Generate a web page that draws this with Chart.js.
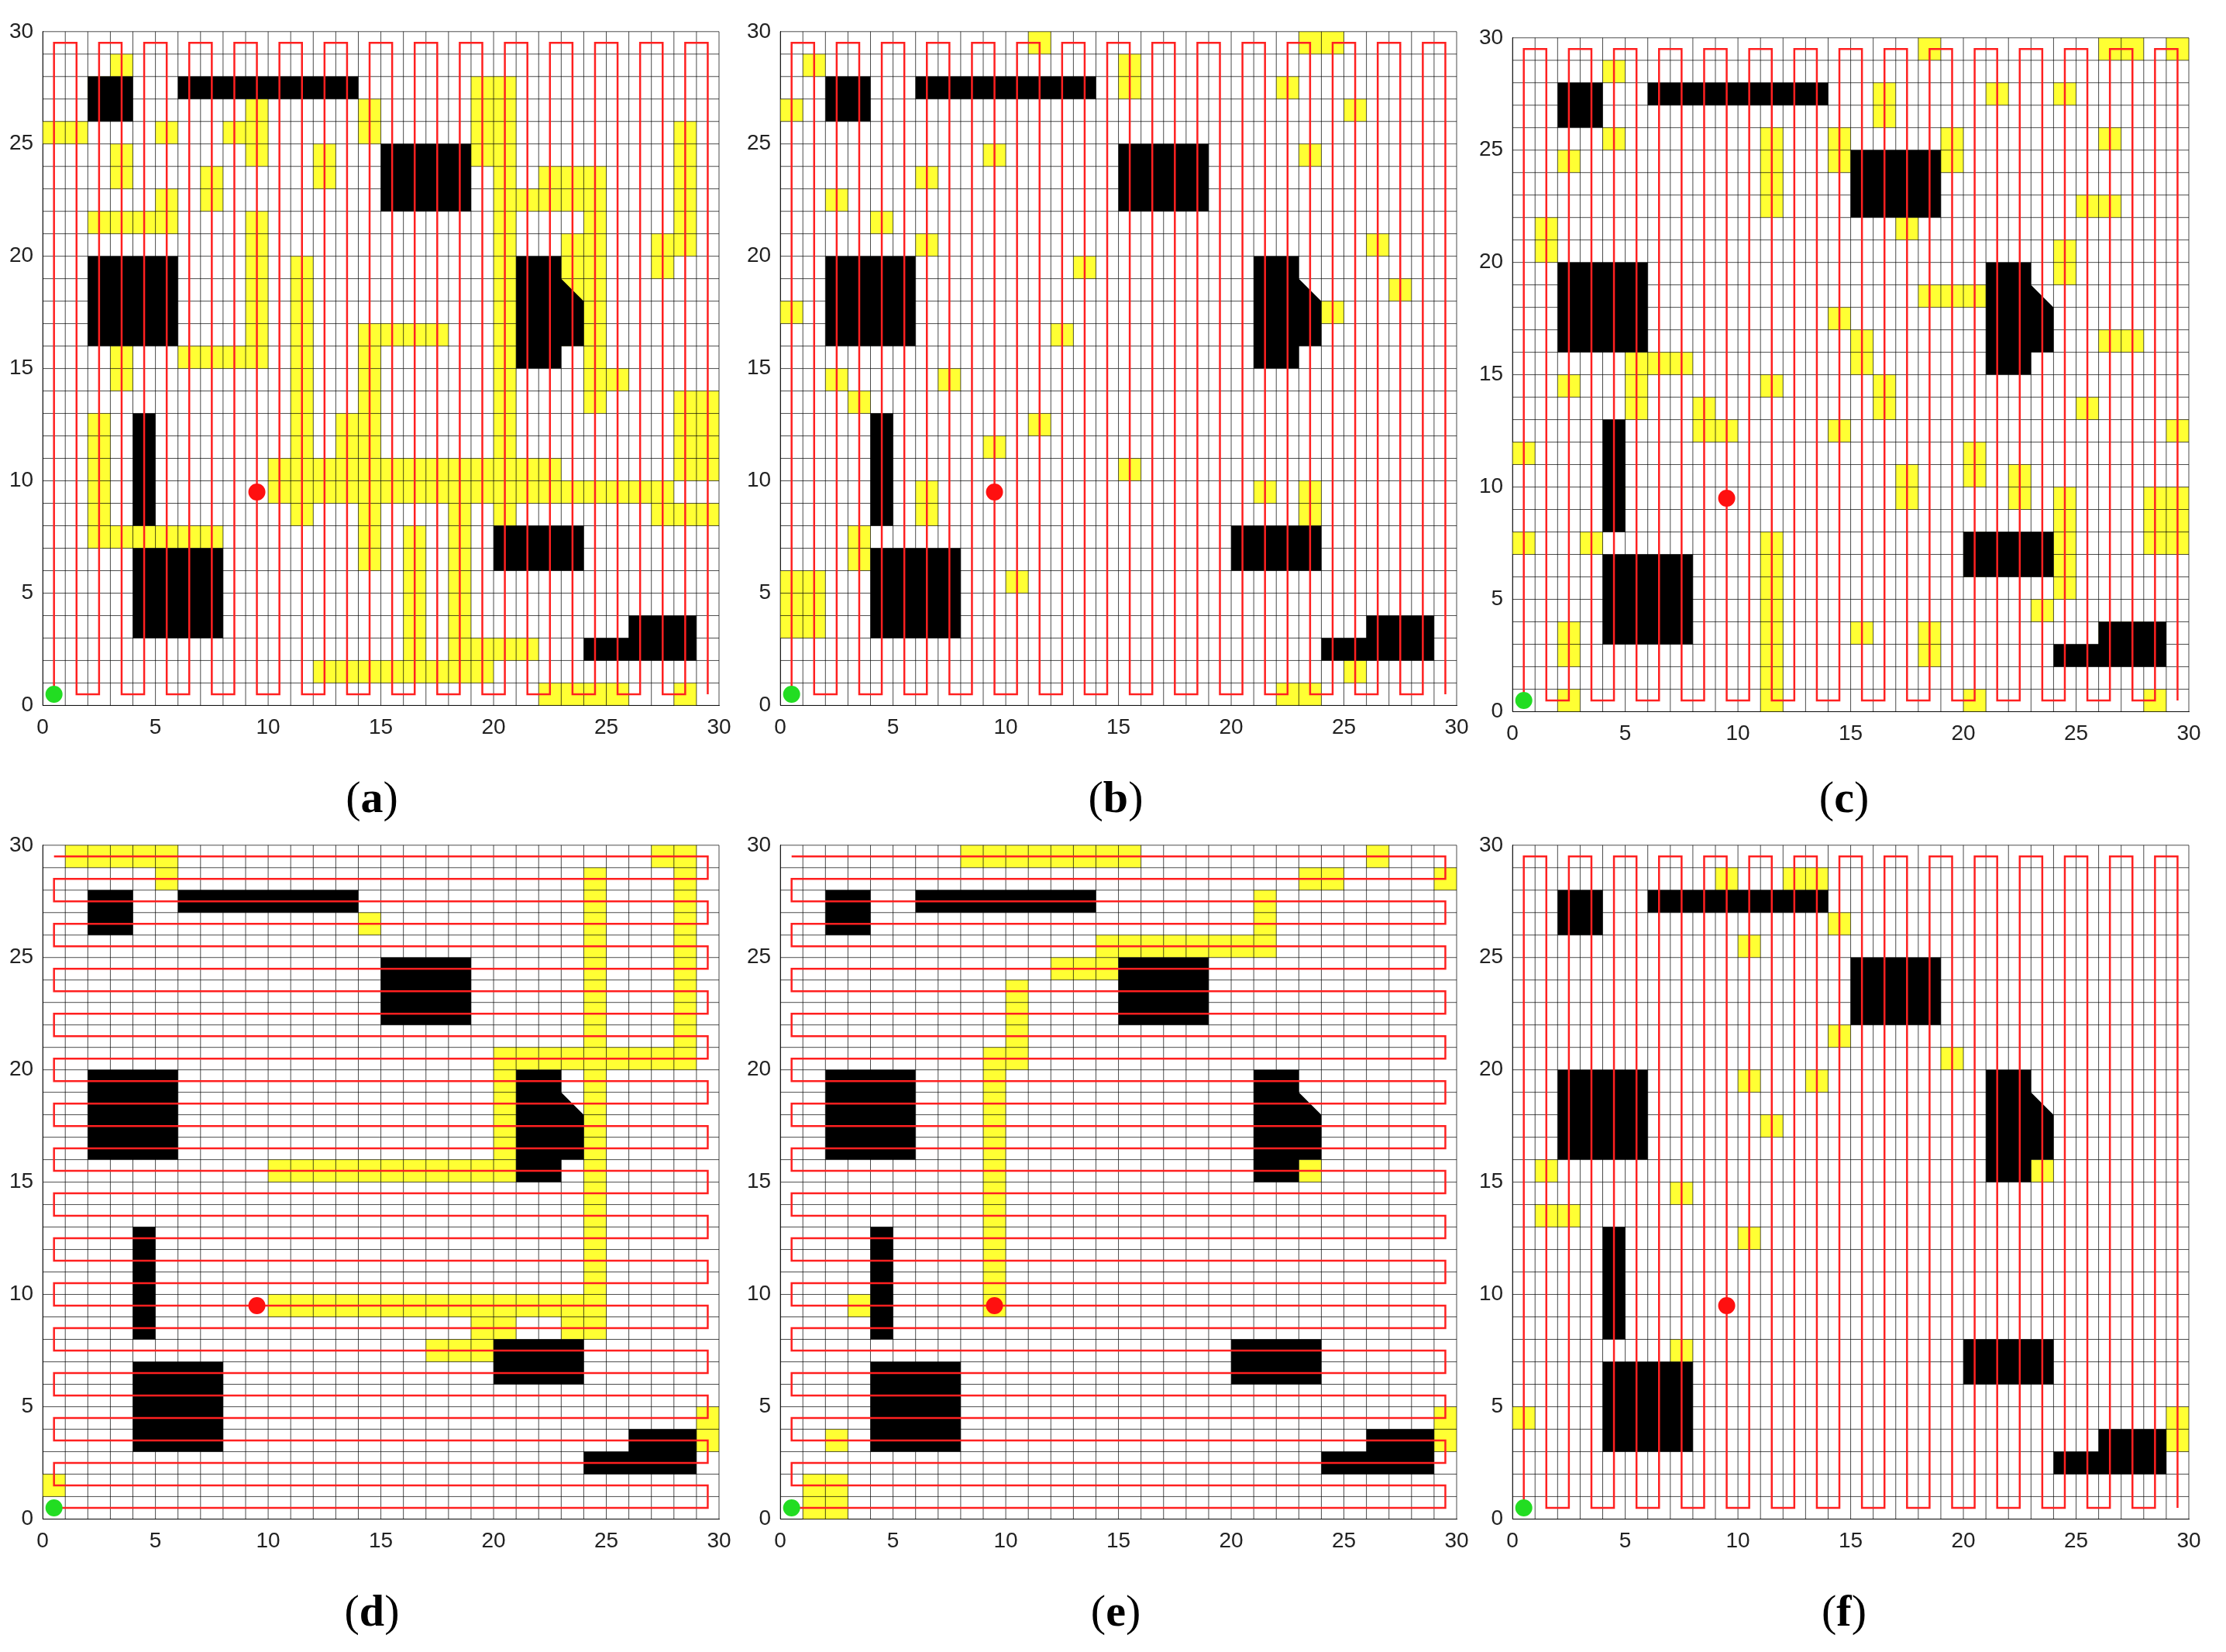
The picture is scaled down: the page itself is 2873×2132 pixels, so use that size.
<!DOCTYPE html>
<html><head><meta charset="utf-8">
<script src="https://cdn.jsdelivr.net/npm/chart.js@4/dist/chart.umd.min.js"></script>
<style>
body{margin:0;background:#fff;width:2873px;height:2132px;position:relative;overflow:hidden}
.box{position:absolute;width:950px;height:940px}
.lab{position:absolute;width:300px;text-align:center;font-family:"Liberation Serif",serif;font-size:58px}
.lab b{font-weight:bold}
</style></head><body>
<div class="box" style="left:8px;top:20px"><canvas id="a"></canvas></div>
<div class="box" style="left:960px;top:20px"><canvas id="b"></canvas></div>
<div class="box" style="left:1905px;top:28px"><canvas id="c"></canvas></div>
<div class="box" style="left:8px;top:1070px"><canvas id="d"></canvas></div>
<div class="box" style="left:960px;top:1070px"><canvas id="e"></canvas></div>
<div class="box" style="left:1905px;top:1070px"><canvas id="f"></canvas></div>
<div class="lab" style="left:330px;top:995px">(<b>a</b>)</div>
<div class="lab" style="left:1290px;top:995px">(<b>b</b>)</div>
<div class="lab" style="left:2230px;top:995px">(<b>c</b>)</div>
<div class="lab" style="left:330px;top:2045px">(<b>d</b>)</div>
<div class="lab" style="left:1290px;top:2045px">(<b>e</b>)</div>
<div class="lab" style="left:2230px;top:2045px">(<b>f</b>)</div>
<script>
const tickLabels=[0,5,10,15,20,25,30];
const sweepLines=[0.5,1.5,2.5,3.5,4.5,5.5,6.5,7.5,8.5,9.5,10.5,11.5,12.5,13.5,14.5,15.5,16.5,17.5,18.5,19.5,20.5,21.5,22.5,23.5,24.5,25.5,26.5,27.5,28.5,29.5];
const startPoint=[0.5,0.5];
const endPoint=[9.5,9.5];
const obstacles=[
 [[2,26],[4,26],[4,28],[2,28]],
 [[6,27],[14,27],[14,28],[6,28]],
 [[15,22],[19,22],[19,25],[15,25]],
 [[2,16],[6,16],[6,20],[2,20]],
 [[21,15],[23,15],[23,16],[24,16],[24,18],[23,19],[23,20],[21,20]],
 [[4,8],[5,8],[5,13],[4,13]],
 [[4,3],[8,3],[8,7],[4,7]],
 [[20,6],[24,6],[24,8],[20,8]],
 [[24,2],[29,2],[29,4],[26,4],[26,3],[24,3]]
];
const yellowA=[[0,25,2,26],[2,27,3,28],[3,28,4,29],[3,23,4,25],[5,25,6,26],[8,25,10,26],[9,24,10,27],[12,23,13,25],[14,25,15,27],[7,22,8,24],[2,21,6,22],[5,21,6,23],[6,15,10,16],[9,15,10,22],[11,8,12,20],[13,11,14,13],[14,11,15,17],[15,16,18,17],[18,1,19,10],[20,8,21,10],[10,9,28,10],[10,10,23,11],[14,6,15,10],[16,2,17,8],[12,1,20,2],[19,2,22,3],[20,10,21,28],[19,24,21,28],[21,22,24,23],[24,13,25,24],[22,23,25,24],[23,16,24,21],[27,19,28,21],[28,20,29,26],[25,14,26,15],[28,10,30,14],[27,8,30,9],[2,7,8,8],[2,7,3,13],[2,11,3,13],[22,0,26,1],[28,0,29,1],[3,14,4,16]];
const yellowB=[[1,28,2,29],[0,26,1,27],[11,29,12,30],[15,27,16,29],[23,29,25,30],[22,27,23,28],[25,26,26,27],[9,24,10,25],[6,23,7,24],[2,22,3,23],[4,21,5,22],[6,20,7,21],[13,19,14,20],[0,17,1,18],[12,16,13,17],[7,14,8,15],[2,14,3,15],[3,13,4,14],[11,12,12,13],[9,11,10,12],[6,8,7,10],[3,6,4,8],[0,3,2,6],[10,5,11,6],[15,10,16,11],[21,9,22,10],[23,8,24,10],[25,1,26,2],[22,0,24,1],[23,24,24,25],[24,17,25,18],[27,18,28,19],[26,20,27,21]];
const yellowC=[[4,28,5,29],[2,24,3,25],[1,20,2,22],[4,25,5,26],[11,22,12,26],[14,24,15,26],[17,21,18,22],[18,18,21,19],[14,17,15,18],[15,15,16,17],[5,15,8,16],[5,13,6,15],[2,14,3,15],[0,11,1,12],[4,9,5,10],[0,7,1,8],[3,7,4,8],[9,12,10,13],[11,14,12,15],[11,3,12,8],[11,0,12,3],[2,2,3,4],[2,0,3,1],[8,12,9,14],[14,12,15,13],[16,13,17,15],[17,9,18,11],[20,10,21,12],[22,9,23,11],[24,5,25,10],[28,7,30,10],[29,12,30,13],[25,13,26,14],[26,16,28,17],[24,19,25,21],[25,22,27,23],[26,25,27,26],[26,29,28,30],[18,29,19,30],[21,27,22,28],[29,29,30,30],[16,26,17,28],[20,6,21,8],[23,4,24,5],[20,0,21,1],[28,0,29,1],[26,3,28,4],[18,2,19,4],[15,3,16,4],[19,24,20,26],[24,27,25,28]];
const yellowD=[[1,29,6,30],[5,28,6,30],[14,26,15,27],[28,20,29,30],[27,29,29,30],[20,20,29,21],[20,16,21,21],[10,15,21,16],[24,8,25,29],[10,9,25,10],[23,8,25,10],[17,7,20,8],[19,8,21,9],[29,3,30,5],[0,1,1,2]];
const yellowE=[[8,29,16,30],[26,29,27,30],[23,28,25,29],[29,28,30,29],[21,25,22,28],[14,25,22,26],[12,24,15,25],[10,20,11,24],[9,9,10,21],[3,9,4,10],[1,0,3,2],[2,3,3,4],[29,3,30,5],[23,15,24,16]];
const yellowF=[[9,28,10,29],[12,28,14,29],[14,26,15,27],[10,25,11,26],[14,21,15,22],[19,20,20,21],[10,19,11,20],[13,19,14,20],[11,17,12,18],[7,14,8,15],[10,12,11,13],[1,15,2,16],[1,13,3,14],[7,7,8,8],[0,4,1,5],[29,3,30,5],[23,15,24,16]];
const pathMode={a:'v',b:'v',c:'v',d:'h',e:'h',f:'v'};
const yellowSets={a:yellowA,b:yellowB,c:yellowC,d:yellowD,e:yellowE,f:yellowF};

function buildPath(mode){
  const pts=[];
  sweepLines.forEach((s,i)=>{
    const a=i%2?29.5:0.5, b=i%2?0.5:29.5;
    if(mode==='h'){pts.push({x:a,y:s});pts.push({x:b,y:s});}
    else{pts.push({x:s,y:a});pts.push({x:s,y:b});}
  });
  return pts;
}
const cellPlugin={id:'cells',beforeDatasetsDraw(ch){
  const {ctx,scales:{x,y}}=ch;const ys=yellowSets[ch.canvas.id];
  ctx.save();ctx.fillStyle='#ffff33';
  ys.forEach(r=>{const x0=x.getPixelForValue(r[0]),x1=x.getPixelForValue(r[2]),y0=y.getPixelForValue(r[1]),y1=y.getPixelForValue(r[3]);ctx.fillRect(x0,y1,x1-x0,y0-y1);});
  ctx.strokeStyle='rgba(0,0,0,0.7)';ctx.lineWidth=1;
  for(let v=0;v<=30;v++){const px=x.getPixelForValue(v),py=y.getPixelForValue(v);
    ctx.beginPath();ctx.moveTo(px,y.top);ctx.lineTo(px,y.bottom);ctx.stroke();
    ctx.beginPath();ctx.moveTo(x.left,py);ctx.lineTo(x.right,py);ctx.stroke();}
  ctx.fillStyle='#000';
  obstacles.forEach(p=>{ctx.beginPath();p.forEach((q,i)=>{const px=x.getPixelForValue(q[0]),py=y.getPixelForValue(q[1]);i?ctx.lineTo(px,py):ctx.moveTo(px,py);});ctx.closePath();ctx.fill();});
  ctx.restore();}};
function axis(){return {type:'linear',min:0,max:30,
  ticks:{stepSize:5,color:'#222',font:{family:'Liberation Sans',size:28},padding:4,callback:v=>tickLabels.includes(v)?v:''},
  grid:{display:false},border:{display:true,color:'#333'}};}
['a','b','c','d','e','f'].forEach(id=>{
  new Chart(document.getElementById(id),{type:'scatter',
    data:{datasets:[
      {data:buildPath(pathMode[id]),showLine:true,borderColor:'#ff2020',borderWidth:2.5,pointRadius:0,borderDash:[],order:3},
      {data:[{x:startPoint[0],y:startPoint[1]}],pointRadius:11,backgroundColor:'#22dd22',borderWidth:0,order:1},
      {data:[{x:endPoint[0],y:endPoint[1]}],pointRadius:11,backgroundColor:'#ff1010',borderWidth:0,order:1}
    ]},
    options:{responsive:true,maintainAspectRatio:false,animation:false,
      plugins:{legend:{display:false},tooltip:{enabled:false}},
      layout:{padding:{top:10,right:30}},
      scales:{x:axis(),y:axis()}},
    plugins:[cellPlugin]});
});
</script></body></html>
